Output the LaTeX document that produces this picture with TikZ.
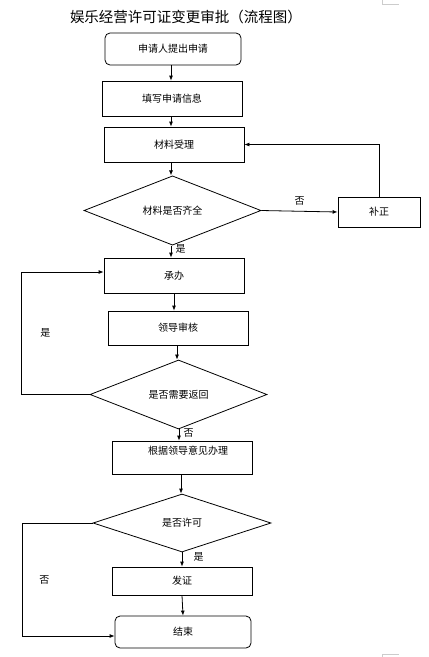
\documentclass[tikz,border=0pt]{standalone}
\usepackage{fontspec}
\setmainfont{Noto Sans CJK SC}
\usetikzlibrary{arrows.meta}
\usetikzlibrary{shapes.geometric}

\begin{document}
\begin{tikzpicture}[x=1pt, y=-1pt, line width=0.8pt,
  box/.style={draw, rectangle, minimum width=140pt, inner sep=0pt, font=\fontsize{10}{12}\selectfont},
  endbox/.style={box, rounded corners=5pt, minimum width=136pt, minimum height=32pt},
  ask/.style={draw, diamond, inner sep=0pt, minimum width=177pt, minimum height=57pt, font=\fontsize{10}{12}\selectfont},
  arr/.style={-{Latex[length=5pt, width=4pt]}},
  lbl/.style={font=\fontsize{10}{12}\selectfont}]
\useasboundingbox (0, 0) rectangle (429, 657);
\node[font=\fontsize{14.5}{16}\selectfont] (title) at (186, 17) {娱乐经营许可证变更审批（流程图）};
\node[endbox] (apply) at (173, 49) {申请人提出申请};
\node[box, minimum height=35pt] (fill) at (172, 98.5) {填写申请信息};
\node[box, minimum height=35pt] (accept) at (174, 144.5) {材料受理};
\node[ask] (check) at (172.5, 210.5) {材料是否齐全};
\node[box, minimum width=82pt, minimum height=30pt] (fix) at (379, 212) {补正};
\node[box, minimum height=35pt] (handle) at (174, 275.5) {承办};
\node[box, minimum height=34pt] (review) at (178, 328) {领导审核};
\node[ask] (back) at (178.5, 394.5) {是否需要返回};
\node[box, minimum height=33pt] (act) at (182, 457.5) {};
\node[lbl] (acttext) at (188, 451) {根据领导意见办理};
\node[ask, minimum width=178pt, minimum height=58pt] (permit) at (182, 523) {是否许可};
\node[box, minimum height=28pt] (issue) at (182, 581) {发证};
\node[endbox] (done) at (183, 632) {结束};
% main line
\draw[arr] (apply.south -| 171, 0) -- (fill.north -| 171, 0);
\draw[arr] (fill.south -| 171, 0) -- (accept.north -| 171, 0);
\draw[arr] (accept.south -| 171, 0) -- (check.north -| 171, 0);
\draw[arr] (check.south -| 171, 0) -- (handle.north -| 171, 0) node[lbl, pos=0.3, right=1pt]{是};
\draw[arr] (handle.south) -- (handle.south |- review.north);
\draw[arr] (review.south -| 177, 0) -- (back.north -| 177, 0);
\draw[arr] (back.south -| 179, 0) -- (act.north -| 179, 0) node[lbl, pos=0.3, right=1pt]{否};
\draw[arr] (act.south -| 181, 0) -- (permit.north -| 181, 0);
\draw[arr] (permit.south) -- (issue.north) node[lbl, pos=0.3, right=8pt]{是};
\draw[arr] (issue.south) -- (done.north);
% loops
\draw[arr] (check.east) -- (fix.west) node[lbl, pos=0.5, above=2pt]{否};
\draw[arr] (fix.north) |- (accept.east);
\draw[arr] (back.west) -- ++(-68, 0) |- ([yshift=3.5pt]handle.west) node[lbl, pos=0.25, right=15pt]{是};
\draw[arr] (permit.west) -- ++(-70, 0) |- ([yshift=-4pt]done.west) node[lbl, pos=0.25, right=13pt]{否};
% page corner marks
\draw[gray!40, line width=0.6pt] (382, 0) -- (382, 4) -- (399, 4);
\draw[gray!40, line width=0.6pt] (382, 657) -- (382, 654) -- (399, 654);
\end{tikzpicture}
\end{document}
